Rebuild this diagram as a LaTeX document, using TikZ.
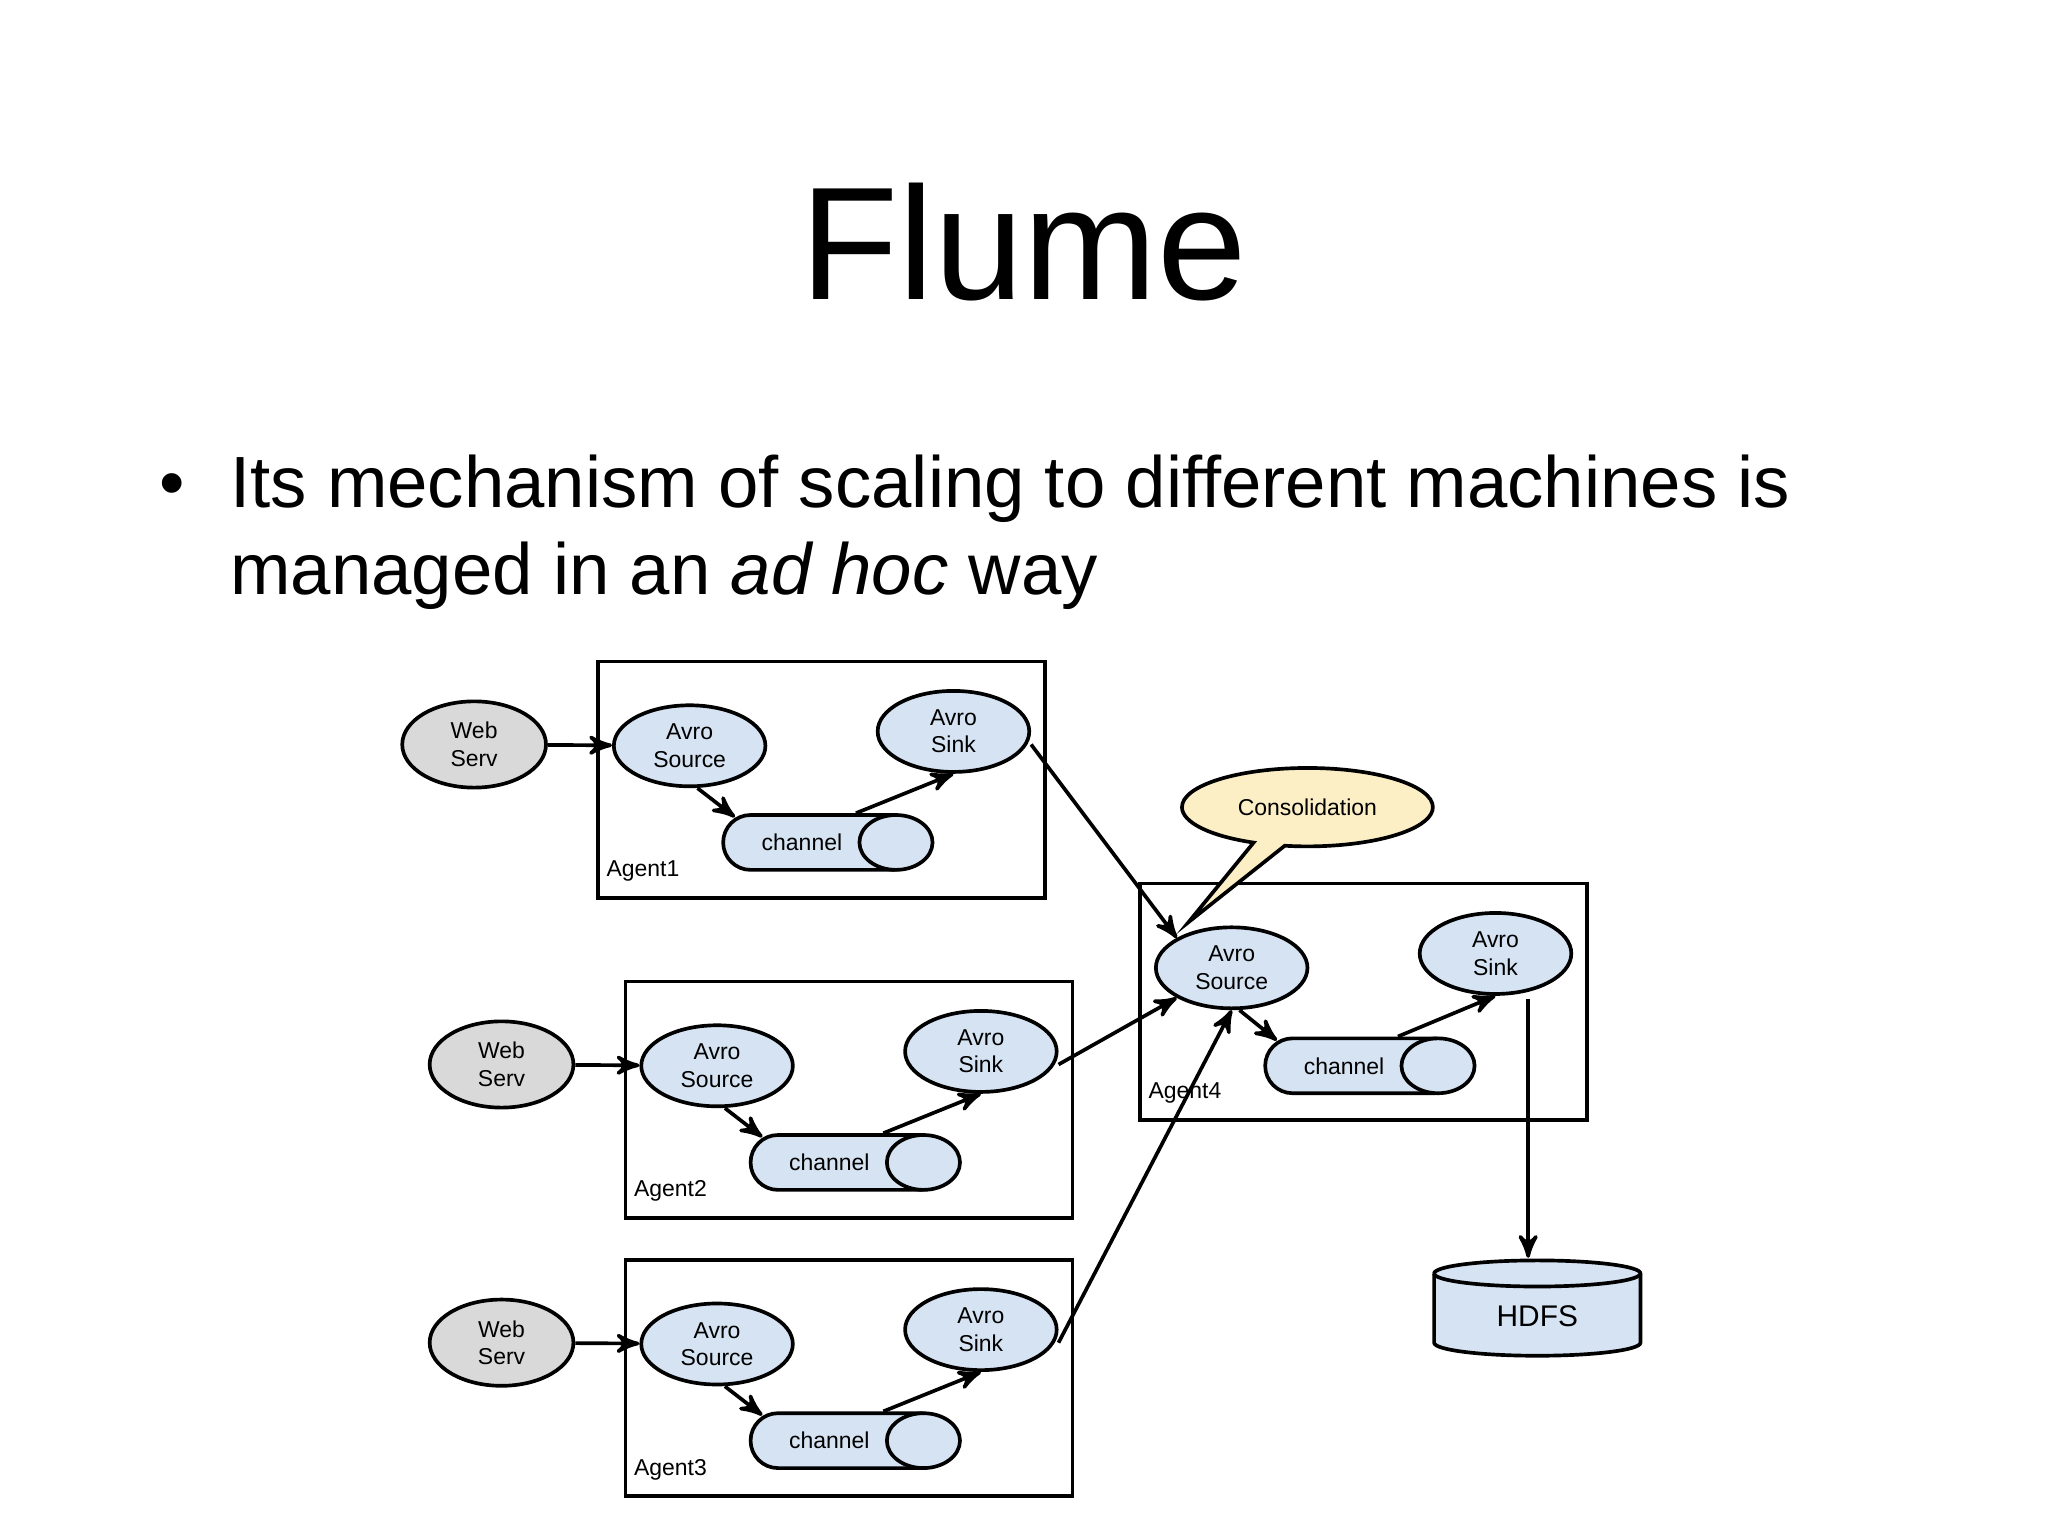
\documentclass[tikz,border=0pt]{standalone}
\usepackage{fontspec}
\setmainfont{Liberation Sans}
\usetikzlibrary{shapes.geometric,shapes.callouts,shapes.misc,arrows,positioning}
\definecolor{nodeblue}{HTML}{D5E3F2}
\definecolor{servgray}{HTML}{D9D9D9}
\definecolor{callyellow}{HTML}{FCEFC6}
\tikzset{
    avro/.style={
           ellipse,
           draw=black, thick,
           fill=nodeblue,
           minimum width=1.16cm,
           minimum height=0.62cm,
           inner sep=0pt,
           align=center,
           font=\fontsize{5}{6}\selectfont
           },
    serv/.style={
           avro,
           fill=servgray,
           minimum width=1.1cm,
           minimum height=0.66cm
           },
    chan/.style={
           rounded rectangle,
           draw=black, thick,
           fill=nodeblue,
           minimum width=1.7cm,
           minimum height=0.42cm,
           font=\fontsize{5}{6}\selectfont
           },
    agent/.style={
           draw=black, thick,
           minimum width=3.42cm,
           minimum height=1.81cm
           },
    lbl/.style={
           font=\fontsize{5}{6}\selectfont,
           inner sep=0pt
           }
}
\begin{document}
\begin{tikzpicture}[x=0.01cm, y=-0.01cm, >=stealth', thick]
   \useasboundingbox (0,0) rectangle (1568,1176);
   \node (title) at (784,185) {\fontsize{35}{40}\selectfont Flume};
   \node[anchor=base west, align=left, inner sep=0pt, font=\fontsize{15.8}{19}\selectfont] (bullet) at (175,455)
      {\llap{\textbullet\hspace{0.35cm}}Its mechanism of scaling to different machines is\\ managed in an \textit{ad hoc} way};

   % agents 1 to 3
   \foreach \i/\dx/\dy in {1/0/0, 2/21/245, 3/21/458} {
     \node[agent] (agent\i) at (629+\dx,597+\dy) {};
     \node[lbl, anchor=west] at (463+\dx,667+\dy) {Agent\i};
     \node[serv] (web\i) at (363+\dx,570+\dy) {Web\\Serv};
     \node[avro] (src\i) at (528+\dx,571+\dy) {Avro\\Source};
     \node[avro] (sink\i) at (730+\dx,560+\dy) {Avro\\Sink};
     \node[chan, minimum width=1.74cm] (chan\i) at (629+\dx,645+\dy) {\hspace*{-0.3cm}channel};
     \draw[fill=nodeblue] (686+\dx,645+\dy) ellipse (28 and 21);
     \draw[->] (src\i.south) ++(6,0) -- ([xshift=-0.12cm, yshift=-0.03cm]chan\i.north west);
     \draw[->] (web\i) -- (src\i);
     \draw[->] (chan\i.north east) ++(-28,0) -- (sink\i.south);
   }

   % agent 4
   \node[agent] (agent4) at (1044,767) {};
   \node[lbl, anchor=west] at (878,837) {Agent4};
   \node[avro] (src4) at (943,741) {Avro\\Source};
   \node[avro] (sink4) at (1145,730) {Avro\\Sink};
   \node[chan, minimum width=1.74cm] (chan4) at (1044,816) {\hspace*{-0.3cm}channel};
   \draw[fill=nodeblue] (1101,816) ellipse (28 and 21);
   \draw[->] (src4.south) ++(6,0) -- ([xshift=-0.12cm, yshift=-0.03cm]chan4.north west);
   \draw[->] (chan4.north east) ++(-28,0) -- (sink4.south);

   \node[draw=black, thick, fill=callyellow, ellipse callout,
         minimum width=1.92cm, minimum height=0.6cm, lbl,
         callout absolute pointer={(910,706)}] (consol) at (1001,618) {Consolidation};

   % HDFS
   \draw[fill=nodeblue] (1098,975) -- (1098,1028) arc[start angle=180, end angle=0, x radius=79, y radius=10]
      -- (1256,975) arc[start angle=360, end angle=180, x radius=79, y radius=10];
   \draw (1098,975) arc[start angle=180, end angle=0, x radius=79, y radius=10];
   \node[font=\fontsize{6.5}{8}\selectfont, minimum width=1.58cm, minimum height=0.55cm, inner sep=0pt] (hdfs) at (1177,1008) {HDFS};

   \coordinate (sink4out) at (1170,765);
   \draw[->] (sink1.east) ++(0,10) -- (src4.north west);
   \draw[->] (sink2.east) ++(0,10) -- (src4.south west);
   \draw[->] (sink3.east) ++(0,10) -- (src4.south);
   \draw[->] (sink4out) -- (sink4out |- 0,963);
\end{tikzpicture}
\end{document}
